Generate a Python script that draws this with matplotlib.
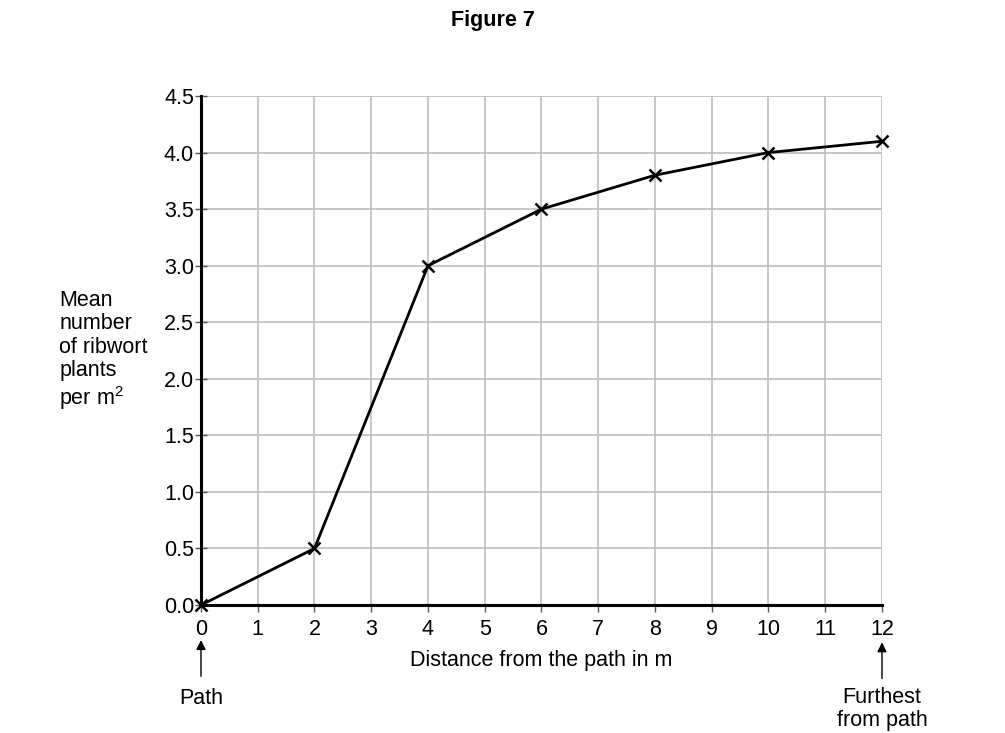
import matplotlib
matplotlib.use("Agg")
import matplotlib.pyplot as plt

distance = [0, 2, 4, 6, 8, 10, 12]
mean_plants = [0.0, 0.5, 3.0, 3.5, 3.8, 4.0, 4.1]
x_ticks = list(range(0, 13))
y_ticks = [0.0, 0.5, 1.0, 1.5, 2.0, 2.5, 3.0, 3.5, 4.0, 4.5]

FS = 15.5
plt.rcParams['font.family'] = ['Liberation Sans', 'DejaVu Sans']
plt.rcParams['mathtext.fontset'] = 'custom'
plt.rcParams['mathtext.rm'] = 'Liberation Sans'
fig = plt.figure(figsize=(10.05, 7.33), dpi=100)
ax = fig.add_axes([0.2, 0.1746, 0.6776, 0.6944])

ax.set_xlim(0, 12)
ax.set_ylim(0, 4.5)
ax.set_xticks(x_ticks)
ax.set_yticks(y_ticks)
ax.set_yticklabels([f"{v:.1f}" for v in y_ticks])
ax.grid(True, color='#bdbdbd', linewidth=1.2)
ax.set_axisbelow(True)
for s in ['top', 'right']:
    ax.spines[s].set_visible(False)
for s in ['left', 'bottom']:
    ax.spines[s].set_linewidth(2.2)
    ax.spines[s].set_color('black')
    ax.spines[s].set_zorder(3)
ax.tick_params(axis='x', labelsize=FS, length=5, width=1, color='#555555', pad=5)
ax.tick_params(axis='y', labelsize=FS, direction='inout', length=8, width=1,
               color='#555555', pad=1)

ax.plot(distance, mean_plants, color='black', linewidth=2, marker='x',
        markersize=9, markeredgewidth=1.8, zorder=4, clip_on=False)

ax.set_xlabel('Distance from the path in m', fontsize=FS, labelpad=7)

fig.text(0.4905, 0.972, 'Figure 7', fontsize=FS, fontweight='bold', ha='center', va='center')
fig.text(0.059, 1 - 412/733, 'Mean\nnumber\nof ribwort\nplants\nper m$^{2}$', fontsize=FS,
         ha='left', va='bottom', linespacing=1.15)

# arrows
ax.annotate('', xy=(0, -0.31), xytext=(0, -0.63), xycoords='data',
            arrowprops=dict(arrowstyle='-|>', color='black', lw=1, mutation_scale=14,
                            shrinkA=0, shrinkB=0),
            annotation_clip=False)
ax.annotate('', xy=(12, -0.33), xytext=(12, -0.65), xycoords='data',
            arrowprops=dict(arrowstyle='-|>', color='black', lw=1, mutation_scale=14,
                            shrinkA=0, shrinkB=0),
            annotation_clip=False)
fig.text(201/1005, 1 - 698/733, 'Path', fontsize=FS, ha='center', va='center')
fig.text(882/1005, 1 - 709/733, 'Furthest\nfrom path', fontsize=FS, ha='center', va='center',
         linespacing=1.1)

fig.savefig('out.png', dpi=100)
